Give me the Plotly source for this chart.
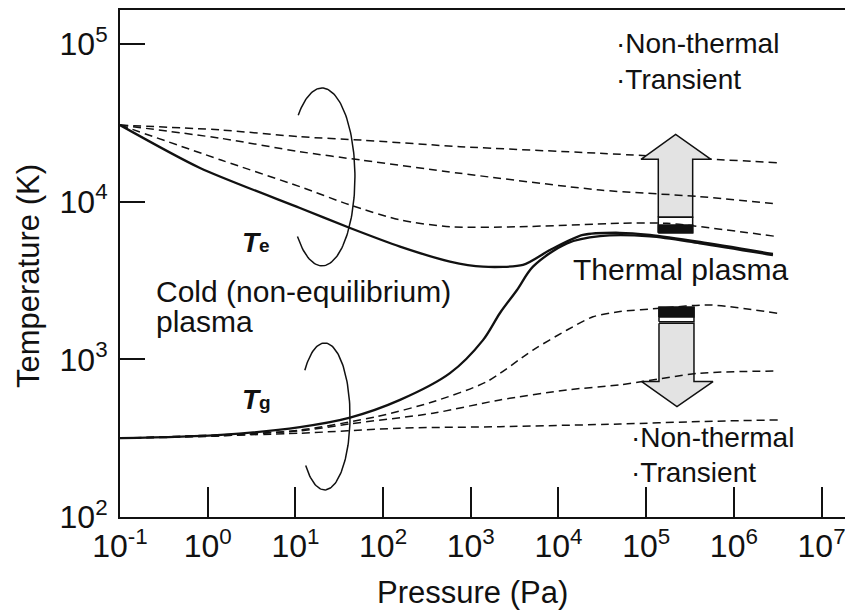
import numpy as np
import plotly.graph_objects as go

# ---------------- data ----------------
# Electron temperature Te (solid)
te_p = [0.1, 0.817, 11.27, 42.0, 156, 579, 1377, 3936, 8000, 19010, 50230, 110400, 410200, 2.79e6]
te_t = [30620, 16370, 9120, 6810, 5190, 4170, 3870, 3970, 4940, 6150, 6350, 6150, 5550, 4660]

# Gas temperature Tg (solid)
tg_p = [0.1, 1.42, 11.27, 42.0, 156, 579, 1377, 2153, 3365, 5117, 12500, 29720, 110400, 410200, 2.79e6]
tg_t = [316, 332, 372, 427, 553, 817, 1324, 1968, 2754, 3873, 5445, 6050, 6030, 5450, 4580]

# Te variants (dashed)
d1_p = [0.1, 1.42, 11.27, 56, 753, 29720, 3.18e6]
d1_t = [30620, 28510, 25820, 24600, 22340, 20280, 17660]
d2_p = [0.1, 1.42, 11.27, 56, 753, 29720, 410200, 3.18e6]
d2_t = [30620, 25230, 20750, 18370, 15140, 11860, 10770, 9660]
d3_p = [0.1, 1.42, 11.27, 42, 156, 579, 3342, 50230, 172600, 3.18e6]
d3_t = [30620, 18370, 12450, 9530, 7660, 6930, 6930, 7290, 7290, 6000]

# Tg variants (dashed)
e1_p = [0.1, 1.42, 11.27, 84.3, 370.7, 1517, 5117, 12500, 24720, 50230, 143500, 533300, 3.18e6]
e1_t = [316, 327, 356, 433, 538, 721, 1146, 1535, 1862, 2009, 2109, 2213, 1959]
e2_p = [0.1, 11.27, 42, 370.7, 2153, 12500, 50230, 410200, 3.18e6]
e2_t = [316, 352, 390, 455, 553, 640, 689, 817, 843]
e3_p = [0.1, 11.27, 156, 2153, 50230, 410200, 3.18e6]
e3_t = [316, 340, 366, 374, 389, 403, 413]

# axis ticks
x_tickvals = [1e-1, 1e0, 1e1, 1e2, 1e3, 1e4, 1e5, 1e6, 1e7]
x_ticktext = ["10<sup>-1</sup>", "10<sup>0</sup>", "10<sup>1</sup>", "10<sup>2</sup>", "10<sup>3</sup>",
              "10<sup>4</sup>", "10<sup>5</sup>", "10<sup>6</sup>", "10<sup>7</sup>"]
y_tickvals = [1e2, 1e3, 1e4, 1e5]
y_ticktext = ["10<sup>2</sup>", "10<sup>3</sup>", "10<sup>4</sup>", "10<sup>5</sup>"]

FONT = "Liberation Sans, Arial, Helvetica, sans-serif"
BLACK = "#111111"
ARROW_FILL = "#e3e3e3"

fig = go.Figure()

def line(px, py, dash=None, width=1.6, smoothing=0.7):
    fig.add_trace(go.Scatter(x=px, y=py, mode="lines",
                             line=dict(color=BLACK, width=width, dash=dash, shape="spline", smoothing=smoothing),
                             hoverinfo="skip", showlegend=False))

def poly(lx, ly, fill, lw=1.5):
    xs = [10 ** v for v in lx] + [10 ** lx[0]]
    ys = [10 ** v for v in ly] + [10 ** ly[0]]
    fig.add_trace(go.Scatter(x=xs, y=ys, mode="lines", fill="toself", fillcolor=fill,
                             line=dict(color=BLACK, width=lw), hoverinfo="skip", showlegend=False))

def arc(cx, cy, rx, ry, a0, a1):
    t = np.radians(np.linspace(a0, a1, 120))
    xs = 10 ** (cx + rx * np.cos(t))
    ys = 10 ** (cy + ry * np.sin(t))
    fig.add_trace(go.Scatter(x=xs, y=ys, mode="lines", line=dict(color=BLACK, width=1.5),
                             hoverinfo="skip", showlegend=False))

DASH = "8px,5px"

# dashed line hidden behind the up-arrow head
line(d1_p, d1_t, dash=DASH, width=1.5)

# ---- arrows (log-space geometry) ----
# up arrow
ux_l, ux_r, uh_l, uh_r, ux_c = 5.138, 5.530, 4.941, 5.739, 5.336
poly([ux_l, ux_l, uh_l, ux_c, uh_r, ux_r, ux_r], [3.901, 4.269, 4.269, 4.427, 4.269, 4.269, 3.901], ARROW_FILL)
poly([ux_l, ux_l, ux_r, ux_r], [3.803, 3.901, 3.901, 3.803], "white")
poly([ux_l, ux_l, ux_r, ux_r], [3.803, 3.852, 3.852, 3.803], BLACK)
# down arrow
dx_l, dx_r, dh_l, dh_r, dx_c = 5.146, 5.545, 4.949, 5.762, 5.351
poly([dx_l, dx_l, dh_l, dx_c, dh_r, dx_r, dx_r], [3.229, 2.859, 2.859, 2.700, 2.859, 2.859, 3.229], ARROW_FILL)
poly([dx_l, dx_l, dx_r, dx_r], [3.239, 3.330, 3.330, 3.239], "white")
poly([dx_l, dx_l, dx_r, dx_r], [3.269, 3.330, 3.330, 3.269], BLACK)

# remaining dashed lines
for px, py in [(d2_p, d2_t), (d3_p, d3_t), (e1_p, e1_t), (e2_p, e2_t), (e3_p, e3_t)]:
    line(px, py, dash=DASH, width=1.5)

# solid lines
line(te_p, te_t, width=2.3)
line(tg_p, tg_t, width=2.3, smoothing=0.9)

# open ellipses (log-space)
arc(1.303, 4.157, 0.376, 0.564, -138, 136)
arc(1.333, 2.638, 0.290, 0.466, -138, 141)

TXT = 28
PADX = 0.045  # compensate annotation padding (≈4 px)
ann = []
def text(x, y, s, size=TXT, xanchor="left"):
    ann.append(dict(x=x - PADX, y=y, xref="x", yref="y", text=s, showarrow=False, xanchor=xanchor,
                    yanchor="middle", font=dict(family=FONT, size=size, color=BLACK)))

text(4.678, 5 - (43.3 - 44) / 157.7, "·Non-thermal")
text(4.678, 5 - (79 - 44) / 157.7, "·Transient")
text(4.85, 5 - (438 - 44) / 157.7, "·Non-thermal")
text(4.85, 5 - (473 - 44) / 157.7, "·Transient")
text(4.184, 5 - (270 - 44) / 157.7, "Thermal plasma", size=30)
text(-0.570, 5 - (291.7 - 44) / 157.7, "Cold (non-equilibrium)", size=30)
text(-0.570, 5 - (322 - 44) / 157.7, "plasma", size=30)
text(0.414, 5 - (243 - 44) / 157.7,
     "<b><i>T</i></b><b><span style='font-size:19px'>e</span></b>")
text(0.414, 5 - (400 - 44) / 157.7,
     "<b><i>T</i></b><b><span style='font-size:19px'>g</span></b>")

# axis titles
ann.append(dict(x=(28 - 120) / 725, y=(517 - 276) / 507, xref="paper", yref="paper",
                text="Temperature (K)", textangle=-90, showarrow=False,
                xanchor="center", yanchor="middle", font=dict(family=FONT, size=31, color=BLACK)))
ann.append(dict(x=(472 - 120) / 725, y=(517 - 593) / 507, xref="paper", yref="paper",
                text="Pressure (Pa)", showarrow=False,
                xanchor="center", yanchor="middle", font=dict(family=FONT, size=31, color=BLACK)))

fig.update_layout(
    width=845, height=614,
    margin=dict(l=120, r=0, t=10, b=97),
    paper_bgcolor="white", plot_bgcolor="white",
    font=dict(family=FONT, color=BLACK),
    annotations=ann,
    xaxis=dict(type="log", range=[-1, 7.267], tickvals=x_tickvals, ticktext=x_ticktext,
               ticks="inside", ticklen=30, tickwidth=2, tickcolor=BLACK, ticklabeloverflow="allow",
               showline=True, linewidth=2, linecolor=BLACK, mirror=True,
               showgrid=False, zeroline=False, tickfont=dict(family=FONT, size=32, color=BLACK)),
    yaxis=dict(type="log", range=[2, 5.216], tickvals=y_tickvals, ticktext=y_ticktext,
               ticks="inside", ticklen=25, tickwidth=2, tickcolor=BLACK, ticklabelstandoff=4,
               showline=True, linewidth=2, linecolor=BLACK,
               showgrid=False, zeroline=False, tickfont=dict(family=FONT, size=32, color=BLACK)),
    showlegend=False,
)

fig.write_html("out.html")
